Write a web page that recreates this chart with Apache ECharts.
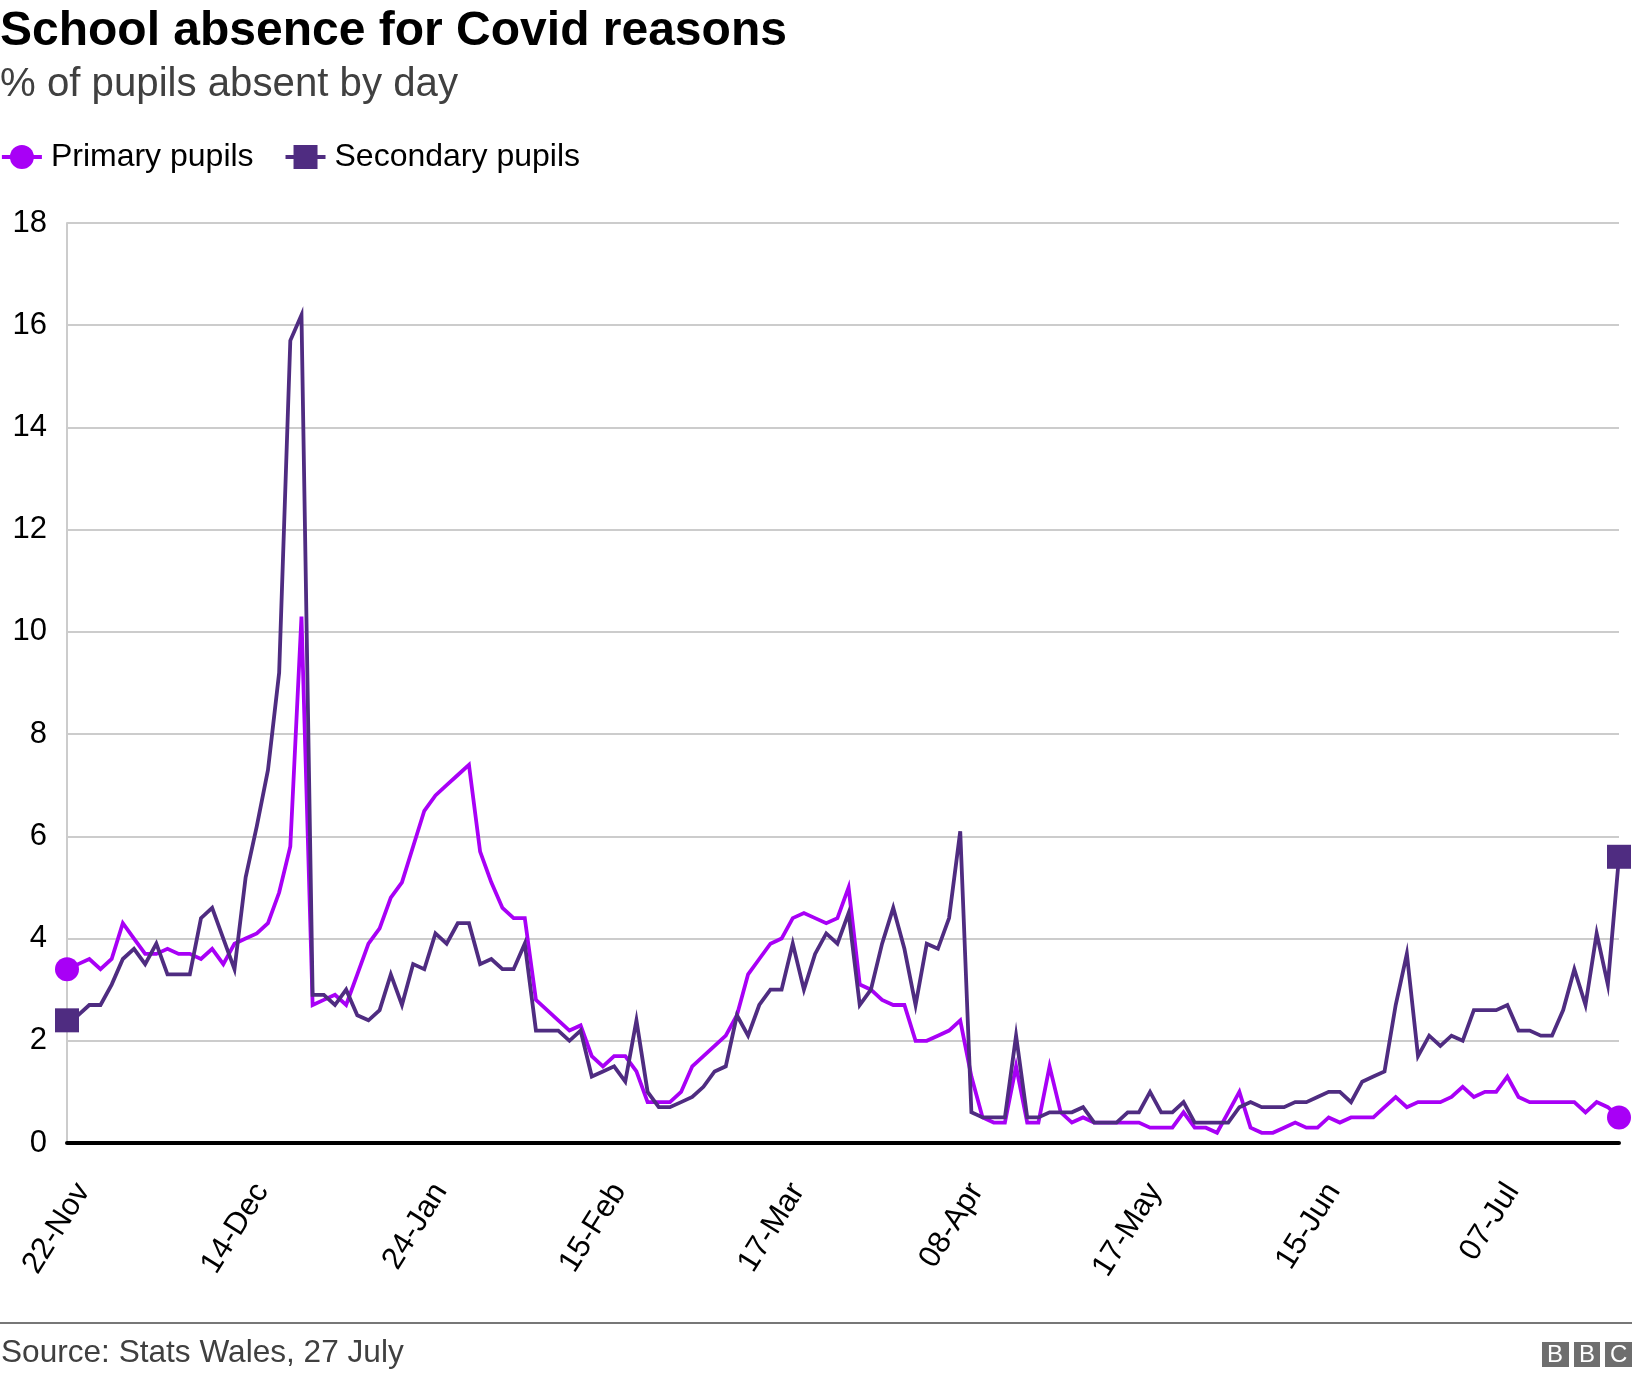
<!DOCTYPE html>
<html>
<head>
<meta charset="utf-8">
<title>School absence for Covid reasons</title>
<script src="https://cdn.jsdelivr.net/npm/echarts@6/dist/echarts.min.js"></script>
<style>
  html, body { margin: 0; padding: 0; background: #fff; }
  #chart { width: 1632px; height: 1378px; }
</style>
</head>
<body>
<div id="chart"></div>
<script>
// labels shown on the axis, one every 16 school days
var tickLabels = ["22-Nov", "14-Dec", "24-Jan", "15-Feb", "17-Mar", "08-Apr", "17-May", "15-Jun", "07-Jul"];
var yTicks = [0, 2, 4, 6, 8, 10, 12, 14, 16, 18];

var primaryPupils = [
  3.4, 3.5, 3.6, 3.4, 3.6, 4.3, 4.0, 3.7, 3.7, 3.8, 3.7, 3.7, 3.6, 3.8, 3.5, 3.9, 4.0, 4.1, 4.3, 4.9,
  5.8, 10.3, 2.7, 2.8, 2.9, 2.7, 3.3, 3.9, 4.2, 4.8, 5.1, 5.8, 6.5, 6.8, 7.0, 7.2, 7.4, 5.7, 5.1, 4.6,
  4.4, 4.4, 2.8, 2.6, 2.4, 2.2, 2.3, 1.7, 1.5, 1.7, 1.7, 1.4, 0.8, 0.8, 0.8, 1.0, 1.5, 1.7, 1.9, 2.1,
  2.5, 3.3, 3.6, 3.9, 4.0, 4.4, 4.5, 4.4, 4.3, 4.4, 5.0, 3.1, 3.0, 2.8, 2.7, 2.7, 2.0, 2.0, 2.1, 2.2,
  2.4, 1.3, 0.5, 0.4, 0.4, 1.5, 0.4, 0.4, 1.5, 0.6, 0.4, 0.5, 0.4, 0.4, 0.4, 0.4, 0.4, 0.3, 0.3, 0.3,
  0.6, 0.3, 0.3, 0.2, 0.6, 1.0, 0.3, 0.2, 0.2, 0.3, 0.4, 0.3, 0.3, 0.5, 0.4, 0.5, 0.5, 0.5, 0.7, 0.9,
  0.7, 0.8, 0.8, 0.8, 0.9, 1.1, 0.9, 1.0, 1.0, 1.3, 0.9, 0.8, 0.8, 0.8, 0.8, 0.8, 0.6, 0.8, 0.7, 0.5
];
var secondaryPupils = [
  2.4, 2.5, 2.7, 2.7, 3.1, 3.6, 3.8, 3.5, 3.9, 3.3, 3.3, 3.3, 4.4, 4.6, 4.0, 3.4, 5.2, 6.2, 7.3, 9.2,
  15.7, 16.2, 2.9, 2.9, 2.7, 3.0, 2.5, 2.4, 2.6, 3.3, 2.7, 3.5, 3.4, 4.1, 3.9, 4.3, 4.3, 3.5, 3.6, 3.4,
  3.4, 3.9, 2.2, 2.2, 2.2, 2.0, 2.2, 1.3, 1.4, 1.5, 1.2, 2.4, 1.0, 0.7, 0.7, 0.8, 0.9, 1.1, 1.4, 1.5,
  2.5, 2.1, 2.7, 3.0, 3.0, 3.9, 3.0, 3.7, 4.1, 3.9, 4.5, 2.7, 3.0, 3.9, 4.6, 3.8, 2.7, 3.9, 3.8, 4.4,
  6.1, 0.6, 0.5, 0.5, 0.5, 2.1, 0.5, 0.5, 0.6, 0.6, 0.6, 0.7, 0.4, 0.4, 0.4, 0.6, 0.6, 1.0, 0.6, 0.6,
  0.8, 0.4, 0.4, 0.4, 0.4, 0.7, 0.8, 0.7, 0.7, 0.7, 0.8, 0.8, 0.9, 1.0, 1.0, 0.8, 1.2, 1.3, 1.4, 2.7,
  3.7, 1.7, 2.1, 1.9, 2.1, 2.0, 2.6, 2.6, 2.6, 2.7, 2.2, 2.2, 2.1, 2.1, 2.6, 3.4, 2.7, 4.1, 3.1, 5.6
];

var FONT = '"Liberation Sans", Arial, sans-serif';
var PRIMARY = "#a800f6";
var SECONDARY = "#4f2c81";

// only every 16th day carries a label, the rest stay blank
var categories = primaryPupils.map(function (v, i) {
  return i % 16 === 0 ? tickLabels[i / 16] : "";
});

// marker only on first and last point
function endMarker(value, params) {
  return params.dataIndex === 0 || params.dataIndex === primaryPupils.length - 1 ? 24 : 0;
}

function lineSeries(name, values, color, symbol) {
  return {
    name: name,
    type: "line",
    data: values,
    symbol: symbol,
    symbolSize: endMarker,
    showAllSymbol: true,
    clip: false,
    animation: false,
    lineStyle: { color: color, width: 3.8, join: "miter" },
    itemStyle: { color: color }
  };
}

var myChart = echarts.init(document.getElementById("chart"));

myChart.setOption({
  backgroundColor: "#fff",
  textStyle: { fontFamily: FONT },
  title: [
    { text: "School absence for Covid reasons", left: 0, top: 8, padding: 0,
      textStyle: { fontFamily: FONT, fontSize: 48, fontWeight: "bold", color: "#000" } },
    { text: "% of pupils absent by day", left: 0, top: 65, padding: 0,
      textStyle: { fontFamily: FONT, fontSize: 40.2, fontWeight: "normal", color: "#404040" } }
  ],
  legend: {
    left: 0,
    top: 141,
    padding: 0,
    itemWidth: 40,
    itemHeight: 30,
    itemGap: 30,
    lineStyle: { width: 3.8 },
    data: ["Primary pupils", "Secondary pupils"],
    textStyle: { fontFamily: FONT, fontSize: 32, color: "#000", padding: [0, 0, 0, 4] }
  },
  grid: { left: 67, right: 13, top: 223, bottom: 235, outerBoundsMode: "none" },
  xAxis: {
    type: "category",
    boundaryGap: false,
    data: categories,
    axisTick: { show: false },
    axisLine: { lineStyle: { color: "#000", width: 4 } },
    axisLabel: {
      interval: 15,
      rotate: 58,
      margin: 33,
      // top aligned so the rotated text sits right of its tick, as in the original
      align: "right",
      verticalAlign: "top",
      lineHeight: 38,
      fontFamily: FONT,
      fontSize: 31,
      color: "#000"
    }
  },
  yAxis: {
    type: "value",
    min: yTicks[0],
    max: yTicks[yTicks.length - 1],
    interval: 2,
    axisTick: { show: false },
    axisLine: { show: true, lineStyle: { color: "#ccc", width: 2 } },
    splitLine: { lineStyle: { color: "#ccc", width: 2 } },
    axisLabel: { margin: 20, fontFamily: FONT, fontSize: 31, color: "#000" }
  },
  series: [
    lineSeries("Primary pupils", primaryPupils, PRIMARY, "circle"),
    lineSeries("Secondary pupils", secondaryPupils, SECONDARY, "rect")
  ],
  graphic: [
    { type: "rect", left: 0, top: 1322, shape: { width: 1632, height: 2 }, style: { fill: "#777" } },
    { type: "text", left: 1, top: 1337,
      style: { text: "Source: Stats Wales, 27 July", font: "31.6px " + FONT, fill: "#404040" } },
    { type: "rect", left: 1542, top: 1342, shape: { width: 27, height: 25 }, style: { fill: "#6e6e6e" } },
    { type: "rect", left: 1574, top: 1342, shape: { width: 26, height: 25 }, style: { fill: "#6e6e6e" } },
    { type: "rect", left: 1605, top: 1342, shape: { width: 27, height: 25 }, style: { fill: "#6e6e6e" } },
    { type: "text", left: 1547, top: 1343, style: { text: "B", font: "24px " + FONT, fill: "#fff" } },
    { type: "text", left: 1579, top: 1343, style: { text: "B", font: "24px " + FONT, fill: "#fff" } },
    { type: "text", left: 1610, top: 1343, style: { text: "C", font: "24px " + FONT, fill: "#fff" } }
  ]
});
</script>
</body>
</html>
